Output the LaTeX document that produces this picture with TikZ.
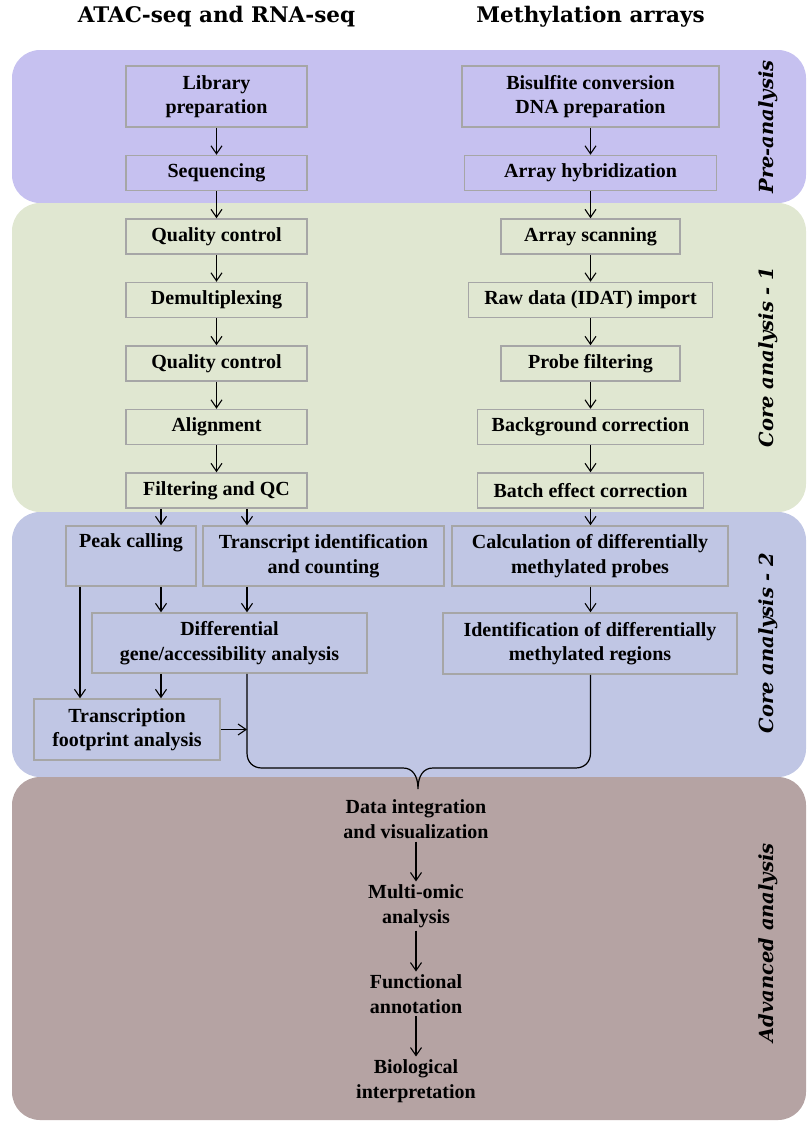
\documentclass[tikz,border=0pt]{standalone}
\usepackage{fontspec}
\setmainfont{Liberation Serif}
\newfontfamily\headfont{DejaVu Serif}
\usepackage{tikz}
\usetikzlibrary{calc}
\usetikzlibrary{arrows.meta}
\usetikzlibrary{positioning}
\definecolor{preband}{HTML}{C6C1F0}
\definecolor{coreoneband}{HTML}{E0E7D1}
\definecolor{coretwoband}{HTML}{C0C6E4}
\definecolor{advband}{HTML}{B5A3A3}
\definecolor{boxgray}{HTML}{A6A6A6}
\tikzstyle{arrow} = [-{Straight Barb[length=8pt,width=11pt]}, line width=1.1pt]
\tikzstyle{brace} = [line width=1.2pt]
\tikzstyle{box} = [draw=boxgray, line width=1.5pt, align=center, inner sep=2pt, minimum width=181pt, minimum height=35pt, font=\bfseries\fontsize{20}{24.5}\selectfont]
\tikzstyle{stage} = [align=center, inner sep=3pt, font=\bfseries\fontsize{20}{24.5}\selectfont]
\tikzstyle{band} = [rounded corners=28pt]
\tikzstyle{side} = [rotate=90, font=\headfont\bfseries\itshape\fontsize{19.5}{22}\selectfont]
\tikzstyle{head} = [font=\headfont\bfseries\fontsize{21.5}{24}\selectfont]

\begin{document}
\begin{tikzpicture}[x=1pt, y=-1pt]
            \useasboundingbox (0,0) rectangle (807,1122);
            % bands
            \fill [preband, band] (12,50) rectangle (806,203);
            \fill [coreoneband, band] (12,203) rectangle (806,512);
            \fill [coretwoband, band] (12,512) rectangle (806,777);
            \fill [advband, band] (12,777) rectangle (806,1120);

            \node (h1) [head] at (216.5,17) {ATAC-seq and RNA-seq};
            \node (h2) [head] at (590.5,17) {Methylation arrays};

            \node (pre) [side] at (768,127) {Pre-analysis};
            \node (core1) [side] at (768,357) {Core analysis - 1};
            \node (core2) [side] at (768,643) {Core analysis - 2};
            \node (adv) [side] at (768,943) {Advanced analysis};

            % ATAC-seq and RNA-seq
            \node (lib) [box, minimum height=61pt] at (216.5,96.5) {Library\\preparation};
            \node (seq) [box, below=27pt of lib] {Sequencing};
            \node (qc1) [box, below=27pt of seq] {Quality control};
            \node (demux) [box, below=27pt of qc1] {Demultiplexing};
            \node (qc2) [box, below=27pt of demux] {Quality control};
            \node (align) [box, below=27pt of qc2] {Alignment};
            \node (filt) [box, below=27pt of align] {Filtering and QC};

            % methylation arrays
            \node (bis) [box, minimum width=257pt, minimum height=61pt] at (590.5,96.5) {Bisulfite conversion\\DNA preparation};
            \node (hyb) [box, minimum width=252pt, below=27pt of bis] {Array hybridization};
            \node (scan) [box, minimum width=179pt, below=27pt of hyb] {Array scanning};
            \node (raw) [box, minimum width=244pt, below=27pt of scan] {Raw data (IDAT) import};
            \node (probe) [box, minimum width=179pt, below=27pt of raw] {Probe filtering};
            \node (bg) [box, minimum width=226pt, below=27pt of probe] {Background correction};
            \node (batch) [box, minimum width=226pt, below=27pt of bg] {Batch effect correction};

            % core analysis 2
            \node (peak) [box, minimum width=130pt, minimum height=60pt] at (131,556) {Peak calling\\\strut};
            \node (trans) [box, minimum width=241pt, minimum height=60pt] at (323.5,556) {Transcript identification\\and counting};
            \node (dmp) [box, minimum width=276pt, minimum height=60pt] at (590,556) {Calculation of differentially\\methylated probes};
            \node (diff) [box, minimum width=275pt, minimum height=60pt] at (229.5,643) {Differential\\gene/accessibility analysis};
            \node (dmr) [box, minimum width=294pt, minimum height=61pt] at (590,643.5) {Identification of differentially\\methylated regions};
            \node (foot) [box, minimum width=186pt, minimum height=61pt] at (127,729.5) {Transcription\\footprint analysis};

            % advanced analysis
            \node (integ) [stage] at (416,819) {Data integration\\and visualization};
            \node (multi) [stage] at (416,906) {Multi-omic\\analysis};
            \node (func) [stage] at (416,994) {Functional\\annotation};
            \node (bio) [stage] at (416,1081) {Biological\\interpretation};

            \coordinate (colA) at (161,0);
            \coordinate (colB) at (247,0);
            \coordinate (colC) at (80,0);
            \coordinate (colD) at (590.5,0);
            \coordinate (tip) at (418,789);

            \draw [arrow] (lib) -- (seq);
            \draw [arrow] (seq) -- (qc1);
            \draw [arrow] (qc1) -- (demux);
            \draw [arrow] (demux) -- (qc2);
            \draw [arrow] (qc2) -- (align);
            \draw [arrow] (align) -- (filt);

            \draw [arrow] (bis) -- (hyb);
            \draw [arrow] (hyb) -- (scan);
            \draw [arrow] (scan) -- (raw);
            \draw [arrow] (raw) -- (probe);
            \draw [arrow] (probe) -- (bg);
            \draw [arrow] (bg) -- (batch);

            \draw [arrow] (filt.south -| colA) -- (peak.north -| colA);
            \draw [arrow] (filt.south -| colB) -- (trans.north -| colB);
            \draw [arrow] (batch.south -| colD) -- (dmp.north -| colD);
            \draw [arrow] (peak.south -| colA) -- (diff.north -| colA);
            \draw [arrow] (trans.south -| colB) -- (diff.north -| colB);
            \draw [arrow] (dmp.south -| colD) -- (dmr.north -| colD);
            \draw [arrow] (peak.south -| colC) -- (foot.north -| colC);
            \draw [arrow] (diff.south -| colA) -- (foot.north -| colA);
            \draw [arrow] (foot.east) -- (foot.east -| colB);

            % brace
            \draw [brace] (diff.south -| colB) -- ($(colB |- tip)+(0,-36)$) .. controls +(0,9) and +(-9,0) .. ++(15,15)
                -- ($(tip)+(-15,-21)$) .. controls +(9,0) and +(0,-14) .. (tip)
                .. controls +(0,-14) and +(-9,0) .. ++(15,-21)
                -- ($(colD |- tip)+(-15,-21)$) .. controls +(9,0) and +(0,9) .. ++(15,-15) -- (dmr.south -| colD);

            \draw [arrow] (integ) -- (multi);
            \draw [arrow] (multi) -- (func);
            \draw [arrow] (func) -- (bio);
        \end{tikzpicture}
\end{document}
